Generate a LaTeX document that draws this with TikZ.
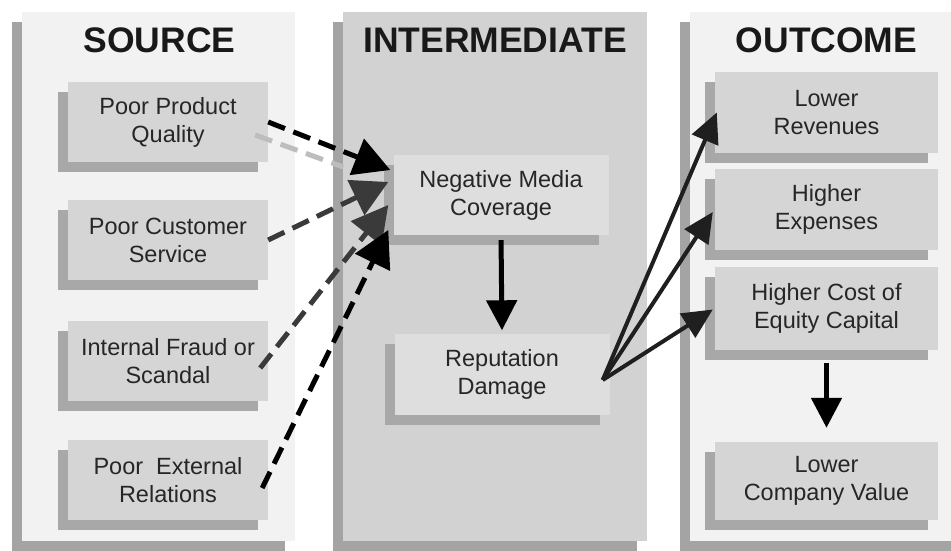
\documentclass[tikz,border=0pt]{standalone}
\usepackage{fontspec}
\setmainfont{Liberation Sans}
\usetikzlibrary{arrows.meta,shadows}
\definecolor{panellight}{HTML}{F2F2F2}
\definecolor{panelmid}{HTML}{D2D2D2}
\definecolor{panelshadow}{HTML}{A4A4A4}
\definecolor{boxfill}{HTML}{D5D5D5}
\definecolor{boxfillmid}{HTML}{DEDEDE}
\definecolor{boxshadow}{HTML}{A8A8A8}
\definecolor{txt}{HTML}{262626}
\definecolor{darkgrey}{HTML}{3A3A3A}
\definecolor{lightarrow}{HTML}{BDBDBD}
\begin{document}
\begin{tikzpicture}[x=1pt,y=-1pt,
  panel/.style={draw=none, inner sep=0pt,
    general shadow={fill=panelshadow, shadow xshift=-10pt, shadow yshift=-10pt}},
  titletext/.style={font=\fontsize{35.5}{40}\selectfont\bfseries, text=black!90, inner sep=0pt, anchor=base},
  box/.style={draw=none, inner sep=0pt, align=center,
    font=\fontsize{23.5}{28}\selectfont, text=txt,
    general shadow={fill=boxshadow, shadow xshift=-10pt, shadow yshift=-10pt}},
  srcbox/.style={box, fill=boxfill, minimum width=200pt, minimum height=80pt},
  midbox/.style={box, fill=boxfillmid, minimum width=215pt, minimum height=81pt},
  outbox/.style={box, fill=boxfill, minimum width=223pt, minimum height=81pt},
  darr/.style={line width=5pt, dash pattern=on 18pt off 9pt,
    -{Triangle[length=36pt,width=38pt]}},
  sarr/.style={line width=4pt, black!88, -{Triangle[length=30pt,width=28pt]}},
  varr/.style={line width=5pt, black, -{Triangle[length=30pt,width=30pt]}}
]
\useasboundingbox (0,0) rectangle (951,551);
\fill[white] (0,0) rectangle (951,551);

% panels
\node[panel, fill=panellight, minimum width=273pt, minimum height=529pt] (psrc) at (158.5,276.5) {};
\node[panel, fill=panelmid, minimum width=304pt, minimum height=529pt] (pmid) at (495,276.5) {};
\node[panel, fill=panellight, minimum width=281pt, minimum height=529pt] (pout) at (830.5,276.5) {};

% titles
\node[titletext] (tsrc) at (159.5,53) {SOURCE};
\node[titletext] (tmid) at (495,53) {INTERMEDIATE};
\node[titletext] (tout) at (826.5,53) {OUTCOME};

% source boxes
\node[srcbox] (pp)  at (168,122) {Poor Product\\Quality};
\node[srcbox] (pcs) at (168,240) {Poor Customer\\Service};
\node[srcbox] (ifs) at (168,361) {Internal Fraud or\\Scandal};
\node[srcbox] (per) at (168,480) {Poor~~External\\Relations};

% intermediate boxes
\node[midbox, minimum height=80pt] (nmc) at (501,195) {Negative Media\\Coverage};
\node[midbox] (rep) at (502,374) {Reputation\\Damage};

% outcome boxes
\node[outbox] (lr)  at (826.5,112.5) {Lower\\Revenues};
\node[outbox] (he)  at (826.5,209) {Higher\\Expenses};
\node[outbox, minimum height=83pt] (hc)  at (826.5,308.5) {Higher Cost of\\Equity Capital};
\node[outbox, minimum height=78pt] (lcv) at (826.5,481) {Lower\\Company Value};

% shadow of first dashed connector
\draw[lightarrow, line width=5pt, dash pattern=on 18pt off 9pt]
  ([shift={(-13pt,-13pt)}]pp.east) -- ([shift={(-50pt,28pt)}]nmc.west);

% dashed connectors into Negative Media Coverage
\draw[darr, black] (pp.east) -- ([shift={(-3pt,25pt)}]nmc.west);
\draw[darr, darkgrey] (pcs.east) -- ([shift={(-5pt,13pt)}]nmc.west);
\draw[darr, darkgrey] ([shift={(-8pt,-7pt)}]ifs.east) -- ([shift={(-5pt,-10pt)}]nmc.west);
\draw[darr, black] ([shift={(-6pt,-8pt)}]per.east) -- ([shift={(-5pt,-35pt)}]nmc.west);

% vertical connectors
\draw[varr, shorten <=5pt, shorten >=3pt] (nmc.south) -- (rep.north);
\draw[varr, shorten <=13pt, shorten >=14pt] (hc.south) -- (lcv.north);

% fan of connectors out of Reputation Damage
\draw[sarr] ([shift={(-7pt,-6pt)}]rep.east) -- ([xshift=2pt]lr.west);
\draw[sarr] ([shift={(-7pt,-6pt)}]rep.east) -- ([shift={(-2pt,-3pt)}]he.west);
\draw[sarr] ([shift={(-7pt,-6pt)}]rep.east) -- ([shift={(-2pt,-1pt)}]hc.west);
\end{tikzpicture}
\end{document}
